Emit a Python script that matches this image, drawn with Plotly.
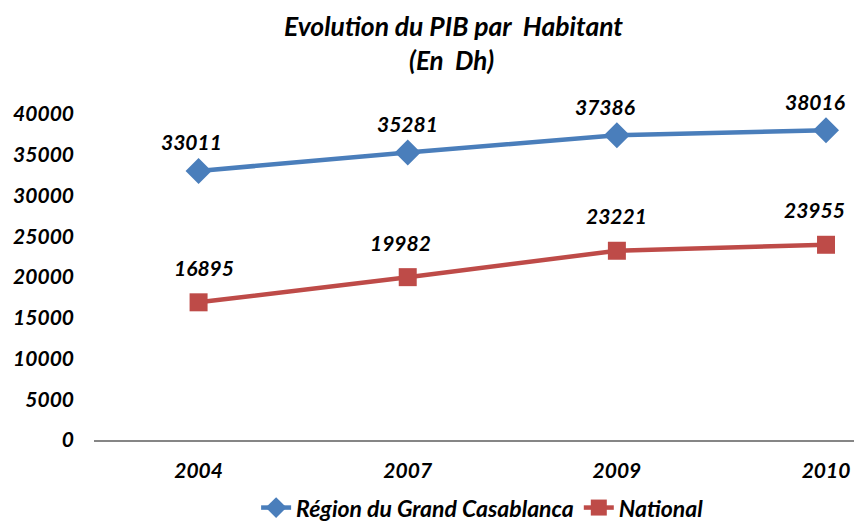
import plotly.graph_objects as go

years = ["2004", "2007", "2009", "2010"]
casablanca = [33011, 35281, 37386, 38016]
national = [16895, 19982, 23221, 23955]
y_ticks = [0, 5000, 10000, 15000, 20000, 25000, 30000, 35000, 40000]

# label offsets (pixels) as placed in the reference
casa_label_dx = [-7, 0, -12, -11]
nat_label_dx = [5, -7, 0, -12]

FONT = "Lato"
blue = "#4A7EBB"
red = "#BE4B48"
bi = dict(family=FONT, color="black", weight="bold", style="italic")

fig = go.Figure()
fig.add_trace(go.Scatter(
    x=years, y=casablanca, name="Région du Grand Casablanca",
    mode="lines+markers",
    line=dict(color=blue, width=4.5),
    marker=dict(symbol="diamond", size=20, color=blue),
    cliponaxis=False,
))
fig.add_trace(go.Scatter(
    x=years, y=national, name="National",
    mode="lines+markers",
    line=dict(color=red, width=4.5),
    marker=dict(symbol="square", size=18, color=red),
    cliponaxis=False,
))

annotations = []
for ys, dxs, shift in ((casablanca, casa_label_dx, 29), (national, nat_label_dx, 35)):
    for i, (yv, dx) in enumerate(zip(ys, dxs)):
        annotations.append(dict(x=i, y=yv, text=str(yv), showarrow=False,
                                xref="x", yref="y", yanchor="middle",
                                yshift=shift, xshift=dx,
                                font=dict(size=21, **bi)))
annotations.append(dict(x=0.466, y=1.1656, xref="paper", yref="paper",
                        text="(En  Dh)", showarrow=False, xanchor="center", yanchor="middle",
                        font=dict(size=26, **bi)))

fig.update_layout(
    width=854, height=514,
    paper_bgcolor="white", plot_bgcolor="white",
    margin=dict(l=86, r=0, t=106, b=82),
    font=dict(size=21, **bi),
    title=dict(text="Evolution du PIB par  Habitant", x=0.5217, xanchor="center",
               y=0.963, yanchor="middle", font=dict(size=26.5, **bi)),
    showlegend=True,
    legend=dict(orientation="h", x=0.506, xanchor="center",
                yref="container", y=0.028, yanchor="middle",
                font=dict(size=23, **bi)),
    annotations=annotations,
)
fig.update_xaxes(
    type="category", range=[-0.5, 3.172],
    showline=True, linecolor="#868686", linewidth=2,
    showgrid=False, ticks="", ticklabelstandoff=11,
    tickfont=dict(size=21, **bi),
)
fig.update_yaxes(
    range=[0, 40000], tickvals=y_ticks, ticktext=[str(v) for v in y_ticks],
    showline=False, showgrid=False, zeroline=False, ticks="",
    ticklabelstandoff=19,
    tickfont=dict(size=21, **bi),
)

fig.write_html("out.html")
